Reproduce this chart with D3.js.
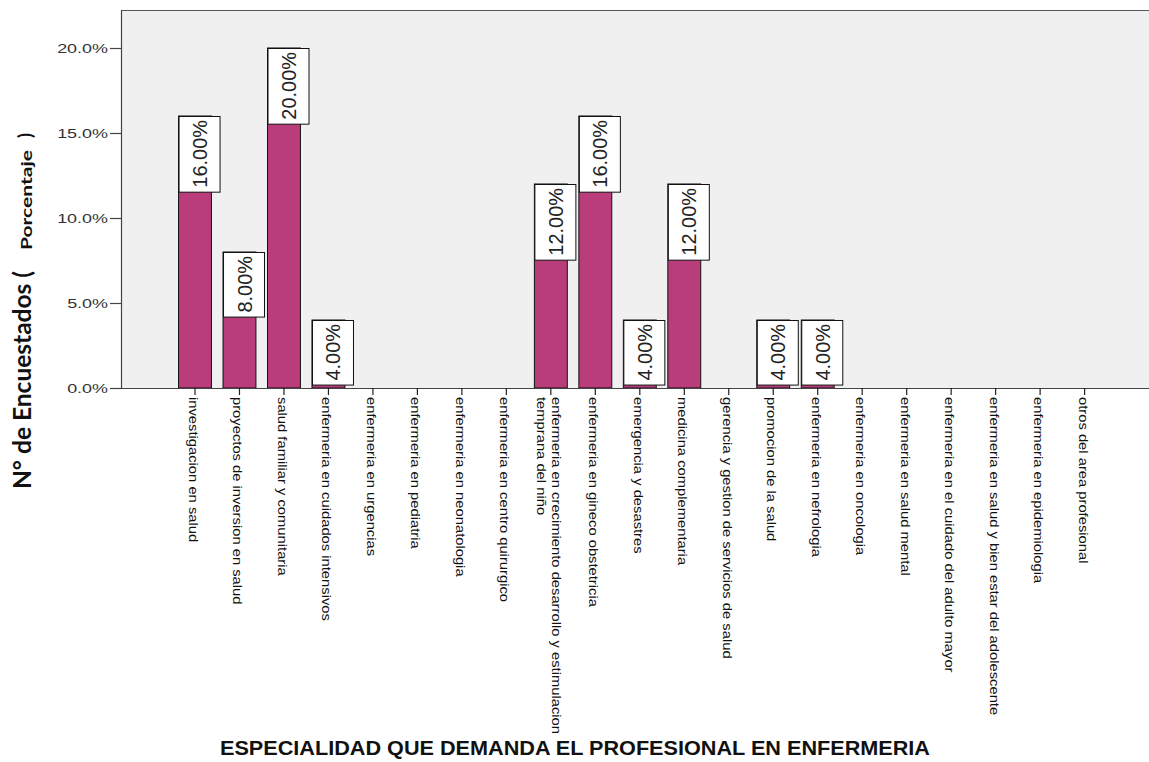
<!DOCTYPE html>
<html>
<head>
<meta charset="utf-8">
<script src="https://cdn.jsdelivr.net/npm/d3@7"></script>
<style>
  html, body { margin: 0; padding: 0; background: #ffffff; }
  svg { display: block; }
</style>
</head>
<body>
<svg id="chart" width="1149" height="762"></svg>
<script>
// ---- data ----
const categories = [
  "investigacion en salud",
  "proyectos de inversion en salud",
  "salud familiar y comunitaria",
  "enfermeria en cuidados intensivos",
  "enfermeria en urgencias",
  "enfermeria en pediatria",
  "enfermeria en neonatologia",
  "enfermeria en centro quirurgico",
  "enfermeria en crecimiento desarrollo y estimulacion temprana del niño",
  "enfermeria en gineco obstetricia",
  "emergencia y desastres",
  "medicina complementaria",
  "gerencia y gestion de servicios de salud",
  "promocion de la salud",
  "enfermeria en nefrologia",
  "enfermeria en oncologia",
  "enfermeria en salud mental",
  "enfermeria en el cuidado del adulto mayor",
  "enfermeria en salud y bien estar del adolescente",
  "enfermeria en epidemiologia",
  "otros del area profesional"
];
const percentages = [16, 8, 20, 4, 0, 0, 0, 0, 12, 16, 4, 12, 0, 4, 4, 0, 0, 0, 0, 0, 0];
const yTickValues = [0, 5, 10, 15, 20];
const xTitle = "ESPECIALIDAD QUE DEMANDA EL PROFESIONAL EN ENFERMERIA";
const yTitleMain = "N° de Encuestados (";
const yTitleSub = "Porcentaje";

// ---- layout ----
const W = 1149, H = 762;
const plotLeft = 121, plotTop = 10, plotBottom = 388, plotRight = W;

const svg = d3.select("#chart");

const x = d3.scaleBand()
  .domain(categories)
  .range([172.76, 1106.84])
  .paddingInner(0.26)
  .paddingOuter(0.13);

const y = d3.scaleLinear()
  .domain([0, 22.235])
  .range([plotBottom, plotTop]);

// plot background
svg.append("rect")
  .attr("x", plotLeft).attr("y", plotTop)
  .attr("width", plotRight - plotLeft).attr("height", plotBottom - plotTop)
  .attr("fill", "#f0f0f0");

// frame lines
svg.append("line").attr("x1", plotLeft).attr("x2", plotRight)
  .attr("y1", plotTop + 0.5).attr("y2", plotTop + 0.5)
  .attr("stroke", "#555").attr("stroke-width", 1.2);
svg.append("line").attr("x1", plotLeft + 0.5).attr("x2", plotLeft + 0.5)
  .attr("y1", plotTop).attr("y2", plotBottom)
  .attr("stroke", "#444").attr("stroke-width", 1.2);

// y axis ticks + labels
const yAxis = svg.append("g");
yTickValues.forEach(v => {
  const yy = Math.round(y(v)) + 0.5;
  yAxis.append("line")
    .attr("x1", 110).attr("x2", plotLeft)
    .attr("y1", yy).attr("y2", yy)
    .attr("stroke", "#444").attr("stroke-width", 1.2);
  yAxis.append("text")
    .attr("transform", `translate(108,${yy + 4.6}) scale(1.38,1)`)
    .attr("text-anchor", "end")
    .attr("font-family", "Liberation Sans, Arial, sans-serif")
    .attr("font-size", 13)
    .attr("fill", "#333")
    .text(d3.format(".1f")(v) + "%");
});

// bars
const data = categories.map((c, i) => ({ c, v: percentages[i] })).filter(d => d.v > 0);
svg.append("g").selectAll("rect")
  .data(data)
  .join("rect")
  .attr("x", d => x(d.c))
  .attr("y", d => y(d.v))
  .attr("width", x.bandwidth())
  .attr("height", d => y(0) - y(d.v))
  .attr("fill", "#b93d7b")
  .attr("stroke", "#111")
  .attr("stroke-width", 1);

// label boxes (SPSS-style, inside top of bar)
const lab = svg.append("g").selectAll("g")
  .data(data)
  .join("g");
lab.each(function(d) {
  const g = d3.select(this);
  const bx = x(d.c);
  const top = y(d.v);
  const rect = g.append("rect");
  const t = g.append("text")
    .attr("transform", `translate(${bx + 28.5},${top + 4}) rotate(-90)`)
    .attr("text-anchor", "end")
    .attr("font-family", "Liberation Sans, Arial, sans-serif")
    .attr("font-size", 21)
    .attr("fill", "#222")
    .text(d3.format(".2f")(d.v) + "%");
  const len = t.node().getComputedTextLength() * 0.95;
  t.attr("textLength", len).attr("lengthAdjust", "spacingAndGlyphs");
  rect.attr("x", bx + 0.5).attr("y", top + 0.5)
    .attr("width", 41).attr("height", len + 8)
    .attr("fill", "#ffffff")
    .attr("stroke", "#111").attr("stroke-width", 1);
});

// x axis line
svg.append("line").attr("x1", 110).attr("x2", plotRight)
  .attr("y1", plotBottom + 0.5).attr("y2", plotBottom + 0.5)
  .attr("stroke", "#444").attr("stroke-width", 1.2);

// x ticks via d3 axis
const xAxisG = svg.append("g")
  .attr("transform", `translate(0,${plotBottom})`)
  .call(d3.axisBottom(x).tickSize(7).tickFormat(""));
xAxisG.select(".domain").remove();
xAxisG.selectAll(".tick line").attr("stroke", "#222").attr("stroke-width", 1.2);

// x tick labels (rotated, wrapped)
const maxLen = 345;
const labFont = 12.3, labScale = 1.2;
categories.forEach(c => {
  const cx = x(c) + x.bandwidth() / 2;
  const g = svg.append("g")
    .attr("transform", `translate(${cx},397) rotate(90) scale(${labScale},1)`);
  const words = c.split(" ");
  const lines = [];
  let cur = [];
  const probe = g.append("text")
    .attr("font-family", "Liberation Sans, Arial, sans-serif")
    .attr("font-size", labFont);
  words.forEach(w => {
    const test = cur.concat([w]).join(" ");
    probe.text(test);
    if (probe.node().getComputedTextLength() * labScale > maxLen && cur.length) {
      lines.push(cur.join(" "));
      cur = [w];
    } else {
      cur.push(w);
    }
  });
  lines.push(cur.join(" "));
  probe.remove();
  const lh = 14.5;
  const n = lines.length;
  lines.forEach((ln, i) => {
    const base = (n === 1) ? 6 : (-1 + i * lh);
    g.append("text")
      .attr("x", 0).attr("y", base)
      .attr("font-family", "Liberation Sans, Arial, sans-serif")
      .attr("font-size", labFont)
      .attr("fill", "#111")
      .text(ln);
  });
});

// x axis title
svg.append("text")
  .attr("x", 220).attr("y", 755)
  .attr("font-family", "Liberation Sans, Arial, sans-serif")
  .attr("font-weight", "bold")
  .attr("font-size", 20)
  .attr("fill", "#111")
  .attr("textLength", 710)
  .attr("lengthAdjust", "spacingAndGlyphs")
  .text(xTitle);

// y axis title
svg.append("text")
  .attr("transform", "translate(31,489) rotate(-90)")
  .attr("font-family", "Lato, Open Sans, sans-serif")
  .attr("font-weight", "bold")
  .attr("font-size", 24)
  .attr("fill", "#111")
  .attr("textLength", 218)
  .attr("lengthAdjust", "spacingAndGlyphs")
  .text(yTitleMain);
svg.append("text")
  .attr("transform", "translate(32,250) rotate(-90)")
  .attr("font-family", "Lato, Open Sans, sans-serif")
  .attr("font-weight", "bold")
  .attr("font-size", 16)
  .attr("fill", "#111")
  .attr("textLength", 100)
  .attr("lengthAdjust", "spacingAndGlyphs")
  .text(yTitleSub);
svg.append("text")
  .attr("transform", "translate(32,138) rotate(-90)")
  .attr("font-family", "Lato, Open Sans, sans-serif")
  .attr("font-weight", "bold")
  .attr("font-size", 18)
  .attr("fill", "#111")
  .text(")");
</script>
</body>
</html>
